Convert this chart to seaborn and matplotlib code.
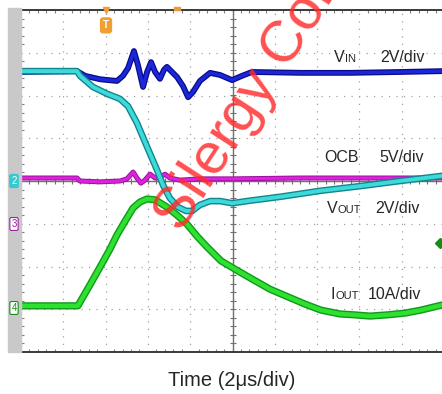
import matplotlib
matplotlib.use("Agg")
import matplotlib.pyplot as plt
import seaborn as sns
import numpy as np
import pandas as pd
from matplotlib.patches import Rectangle

# Time axis in microseconds (2 us per division, 10 divisions)
# Trace levels are in screen divisions relative to the centre line.
vin_t = [0.00, 2.65, 3.03, 3.74, 4.54, 4.82, 5.06, 5.34, 5.53, 5.77, 5.96, 6.15,
         6.34, 6.57, 6.76, 6.90, 7.14, 7.38, 7.66, 7.90, 8.13, 8.46, 8.94, 9.41,
         9.98, 10.45, 10.92, 13.19, 15.56, 17.92, 19.91]
vin_div = [2.55, 2.57, 2.46, 2.38, 2.34, 2.46, 2.64, 3.04, 2.71, 2.20, 2.55, 2.78,
           2.55, 2.39, 2.60, 2.67, 2.55, 2.43, 2.22, 1.96, 2.08, 2.34, 2.53, 2.48,
           2.36, 2.46, 2.55, 2.53, 2.53, 2.55, 2.57]

vout_t = [0.00, 2.65, 2.79, 3.40, 4.07, 4.68, 5.06, 5.48, 5.96, 6.43, 6.71, 7.04,
          7.42, 7.80, 8.09, 8.46, 8.94, 9.41, 9.98, 10.83, 12.25, 14.14, 16.03,
          17.92, 19.91]
vout_div = [2.57, 2.57, 2.46, 2.20, 2.04, 1.92, 1.75, 1.36, 0.80, 0.26, -0.09, -0.40,
            -0.61, -0.70, -0.70, -0.56, -0.47, -0.47, -0.52, -0.46, -0.37, -0.23,
            -0.12, 0.00, 0.12]

ocb_t = [0.00, 2.65, 2.79, 3.74, 4.68, 5.01, 5.30, 5.48, 5.67, 5.86, 6.10, 6.34,
         6.57, 6.81, 7.04, 7.52, 8.46, 9.98, 13.19, 17.92, 19.91]
ocb_div = [0.07, 0.07, 0.00, -0.02, 0.00, 0.05, 0.21, 0.07, -0.05, 0.02, 0.16, 0.07,
           0.09, 0.16, 0.07, 0.02, 0.05, 0.05, 0.07, 0.07, 0.07]

iout_t = [0.00, 2.69, 3.26, 3.74, 4.21, 4.54, 4.92, 5.30, 5.63, 5.96, 6.34, 6.90,
          7.38, 7.85, 8.32, 8.79, 9.46, 10.35, 11.02, 11.77, 12.62, 13.43, 14.18,
          15.08, 15.74, 16.50, 17.35, 18.16, 18.91, 19.91]
iout_div = [-2.92, -2.92, -2.43, -2.01, -1.59, -1.26, -0.94, -0.63, -0.49, -0.42,
            -0.44, -0.61, -0.80, -1.01, -1.29, -1.54, -1.87, -2.13, -2.32, -2.53,
            -2.71, -2.88, -3.02, -3.11, -3.13, -3.16, -3.13, -3.09, -3.02, -2.90]

sns.set_style("white")
plt.rcParams["font.family"] = ["Liberation Sans", "DejaVu Sans"]

W, H = 442, 394
fig = plt.figure(figsize=(W / 100, H / 100), dpi=100)
ax = fig.add_axes([21 / W, 42 / H, 423 / W, 342 / H])
ax.set_xlim(0, 20)
ax.set_ylim(-4, 4)


def fx(px):
    return px / W


def fy(py):
    return 1 - py / H


# Graticule: dotted division grid, solid centre cross with minor ticks
ax.set_xticks(np.arange(0, 20.01, 2))
ax.set_yticks(np.arange(-4, 4.01, 1))
ax.set_xticks(np.arange(0, 20.01, 0.4), minor=True)
ax.set_yticks(np.arange(-4, 4.01, 0.2), minor=True)
ax.set_xticklabels([])
ax.set_yticklabels([])
ax.grid(True, which="major", color="#a0a0a0", linestyle=(0, (1, 5)), lw=0.9)
ax.tick_params(which="major", length=0)
ax.tick_params(which="minor", direction="in", length=2.5, width=0.8,
               color="#808080", top=True, bottom=True, left=True, right=False)
for side in ("top", "bottom", "left"):
    ax.spines[side].set_color("#3a3a3a")
    ax.spines[side].set_linewidth(1.4)
ax.spines["right"].set_visible(False)

ax.axvline(10, color="#707070", lw=1.0, zorder=1)
ax.axhline(0, color="#707070", lw=1.0, zorder=1)
minor_x = np.arange(0, 20.01, 0.4)
minor_y = np.arange(-4, 4.01, 0.2)
ax.plot(minor_x, np.zeros_like(minor_x), ls="none", marker="|", ms=4,
        mew=0.8, color="#707070", zorder=1)
ax.plot(np.full_like(minor_y, 10.0), minor_y, ls="none", marker="_", ms=4,
        mew=0.8, color="#707070", zorder=1)

# Waveforms (darker band under a brighter core)
traces = [
    (iout_t, iout_div, "#0e9a18", "#2ee030", 5.2, 3.2, 3),
    (ocb_t, ocb_div, "#9a109a", "#dd22dd", 3.6, 2.2, 4),
    (vin_t, vin_div, "#0a0a8a", "#1a28d8", 4.2, 2.4, 5),
    (vout_t, vout_div, "#13858c", "#3ddada", 4.8, 2.8, 6),
]
for t, v, dark, bright, lw_out, lw_in, z in traces:
    df = pd.DataFrame({"t": t, "v": v})
    sns.lineplot(data=df, x="t", y="v", ax=ax, color=dark, lw=lw_out,
                 sort=False, estimator=None, zorder=z)
    sns.lineplot(data=df, x="t", y="v", ax=ax, color=bright, lw=lw_in,
                 sort=False, estimator=None, zorder=z + 0.5)
ax.set_xlabel("")
ax.set_ylabel("")

# Right-edge level marker
ax.plot([19.81], [-1.45], marker="D", ms=5, color="#178a17", ls="none",
        clip_on=False, zorder=7)

# Left gray channel strip and channel tags
fig.patches.append(Rectangle((fx(8), fy(352)), fx(12.5), (352 - 8) / H,
                             transform=fig.transFigure, color="#c9c9c9", zorder=0))
fig.text(fx(14), fy(181), "2", ha="center", va="center", fontsize=7, color="white",
         bbox=dict(boxstyle="round,pad=0.15", fc="#36c8d0", ec="#36c8d0"))
fig.text(fx(14), fy(224), "3", ha="center", va="center", fontsize=7, color="#a020a0",
         bbox=dict(boxstyle="round,pad=0.15", fc="white", ec="#a020a0", lw=0.8))
fig.text(fx(14), fy(308), "4", ha="center", va="center", fontsize=7, color="#178a17",
         bbox=dict(boxstyle="round,pad=0.15", fc="white", ec="#178a17", lw=0.8))

# Trigger markers
ax.plot([4.02], [4.0], marker="v", ms=5, color="#f0a030", clip_on=False, zorder=8)
ax.text(4.02, 3.64, "T", ha="center", va="center", fontsize=7, color="white",
        fontweight="bold", zorder=8,
        bbox=dict(boxstyle="round,pad=0.25", fc="#f0a030", ec="#f0a030"))
fig.patches.append(Rectangle((fx(174), fy(10)), fx(6), 2.5 / H,
                             transform=fig.transFigure, color="#e89a40", zorder=3))

# Channel annotations
fs_big, fs_small = 11.5, 8


def label(x_main, x_sub, x_scale, y, main, sub, scale):
    fig.text(fx(x_main), fy(y), main, fontsize=fs_big, va="baseline", ha="left")
    if sub:
        fig.text(fx(x_sub), fy(y), sub, fontsize=fs_small, va="baseline", ha="left")
    fig.text(fx(x_scale), fy(y), scale, fontsize=fs_big, va="baseline", ha="left")


label(334, 345, 380, 62, "V", "IN", "2V/div")
label(324, 0, 379, 162, "OCB", "", "5V/div")
label(327, 337, 375, 213, "V", "OUT", "2V/div")
label(330, 335, 368, 299, "I", "OUT", "10A/div")

fig.text(fx(232), fy(381), "Time (2\u03bcs/div)", ha="center", va="center",
         fontsize=14.5)

# Watermark
fig.text(fx(181), fy(233), "Silergy Corp", rotation=57, rotation_mode="anchor",
         ha="left", va="baseline", fontsize=42, color="#ff2a2a", alpha=0.82,
         zorder=20)

fig.savefig("out.png", dpi=100)
